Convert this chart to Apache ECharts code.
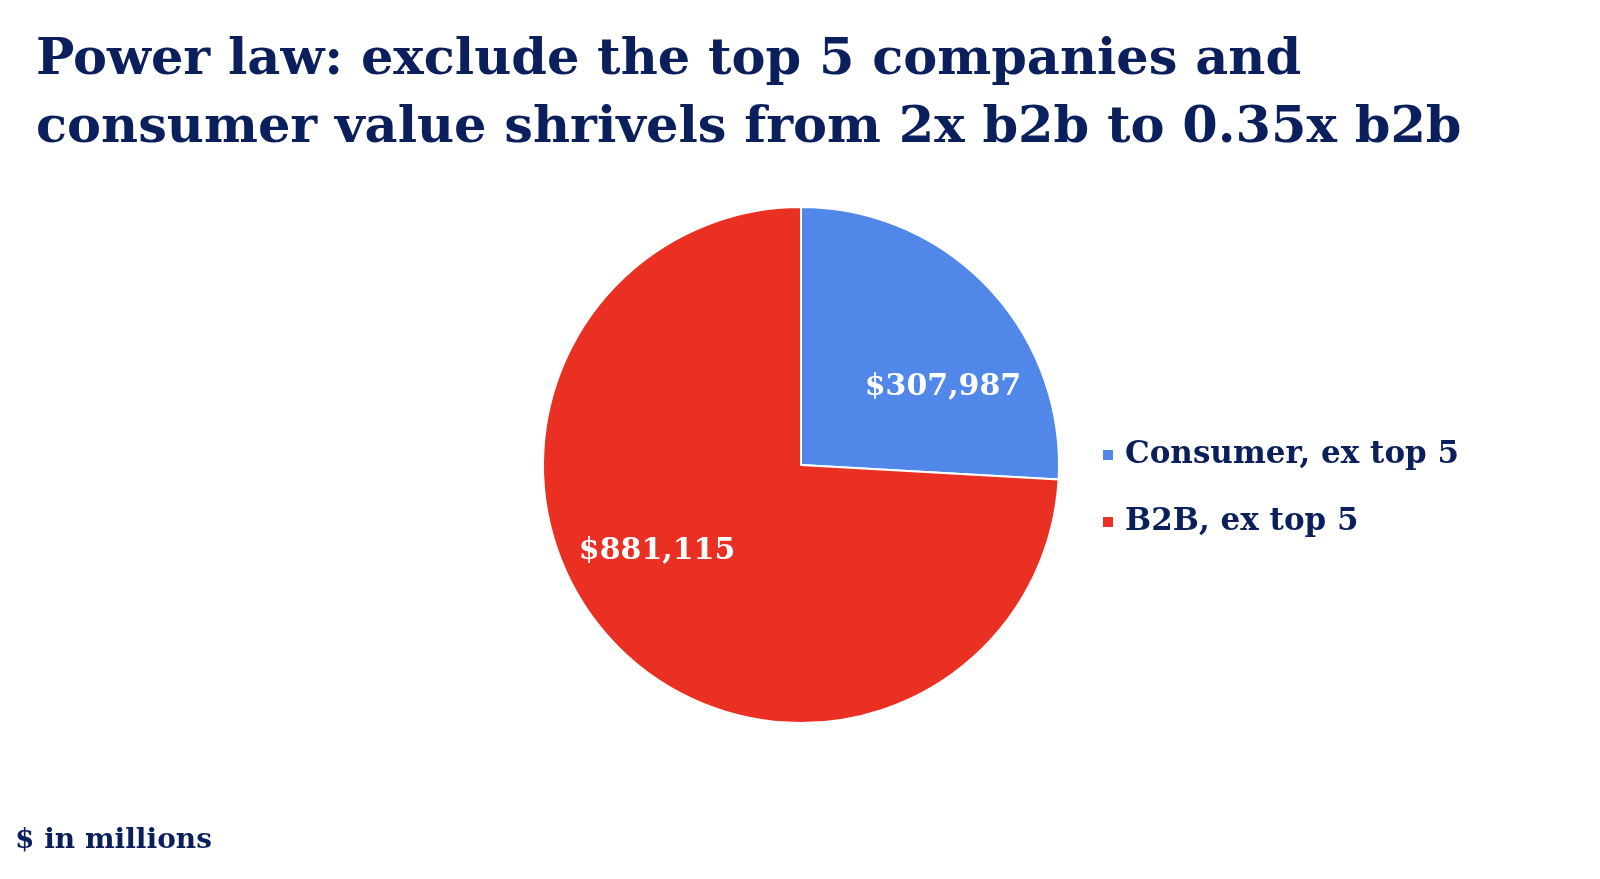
<!DOCTYPE html>
<html>
<head>
<meta charset="utf-8">
<script src="https://cdn.jsdelivr.net/npm/echarts@6/dist/echarts.min.js"></script>
<style>
html,body{margin:0;padding:0;background:#fff;}
#chart{width:1600px;height:879px;}
</style>
</head>
<body>
<div id="chart"></div>
<script>
const categories = ['Consumer, ex top 5', 'B2B, ex top 5'];
const values = [307987, 881115];
const colors = ['#5087E8', '#EA3023'];
const titleLines = ['Power law: exclude the top 5 companies and', 'consumer value shrivels from 2x b2b to 0.35x b2b'];
const footnote = '$ in millions';

const navy = '#0B1F5C';
const fontFam = '"DejaVu Serif", serif';
const labelOffsets = [[46, 13], [-48, -4]];

const chart = echarts.init(document.getElementById('chart'));
chart.setOption({
  backgroundColor: '#ffffff',
  animation: false,
  title: [{
    text: titleLines.join('\n'),
    left: 31,
    top: 22,
    textStyle: {
      fontFamily: fontFam,
      fontWeight: 'bold',
      fontSize: 51,
      lineHeight: 68,
      color: navy
    }
  }, {
    text: footnote,
    left: 10,
    top: 822,
    textStyle: {
      fontFamily: fontFam,
      fontWeight: 'bold',
      fontSize: 28,
      color: navy
    }
  }],
  legend: {
    orient: 'vertical',
    left: 1101,
    top: 439,
    padding: 0,
    itemWidth: 12,
    itemHeight: 12,
    itemGap: 35,
    icon: 'rect',
    data: categories,
    textStyle: {
      fontFamily: fontFam,
      fontWeight: 'bold',
      fontSize: 31,
      lineHeight: 32,
      color: navy,
      padding: [0, 0, 0, 6]
    }
  },
  series: [{
    type: 'pie',
    center: [801, 465],
    radius: 258,
    startAngle: 90,
    clockwise: true,
    itemStyle: { borderColor: '#ffffff', borderWidth: 2 },
    label: {
      show: true,
      position: 'inside',
      color: '#ffffff',
      fontFamily: fontFam,
      fontWeight: 'bold',
      fontSize: 30,
      formatter: p => '$' + p.value.toLocaleString('en-US')
    },
    labelLayout: p => ({ dx: labelOffsets[p.dataIndex][0], dy: labelOffsets[p.dataIndex][1] }),
    emphasis: { disabled: true },
    data: categories.map((c, i) => ({ name: c, value: values[i], itemStyle: { color: colors[i] } }))
  }]
});
</script>
</body>
</html>
